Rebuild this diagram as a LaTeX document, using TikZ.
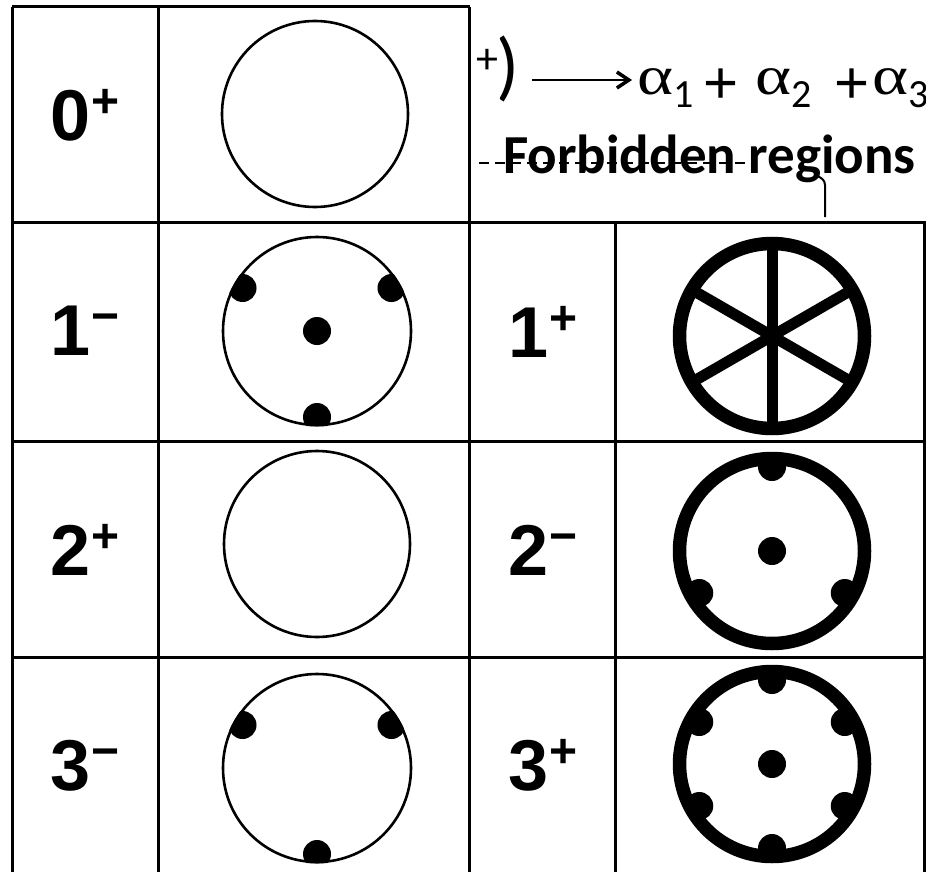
\documentclass[tikz,border=0pt]{standalone}
\usepackage{fontspec}
\setmainfont{Liberation Sans}
\newfontfamily\labfont{Liberation Sans}
\newfontfamily\calfont{Carlito}
\newfontfamily\serfont{Liberation Serif}
\usetikzlibrary{arrows.meta}
\newcommand\lbl[2]{#1\raisebox{23pt}{\fontsize{48}{48}\selectfont #2}}
\newcommand\alf{\scalebox{1.25}[1]{\serfont\fontsize{55}{55}\selectfont α}}
\newcommand\subf[1]{\raisebox{-13pt}{\calfont\fontsize{40}{40}\selectfont #1}}
\tikzset{
  tablerule/.style={line width=3pt},
  thinring/.style={line width=2.6pt},
  thickring/.style={line width=13.5pt},
  lab/.style={anchor=base, inner sep=0pt, font=\labfont\bfseries\fontsize{72}{72}\selectfont},
  eqtxt/.style={anchor=base west, inner sep=0pt},
  plustxt/.style={anchor=base west, inner sep=0pt, font=\labfont\fontsize{60}{60}\selectfont},
}
\newcommand\thindots[2]{%
  \begin{scope}
    \clip (#1) circle (95.5pt);
    \foreach \a in {#2} \fill[shift={(#1)}] (\a:86pt) circle (14pt);
  \end{scope}}
\newcommand\thickdots[2]{%
  \foreach \a in {#2} \fill[shift={(#1)}] (\a:84pt) circle (14pt);}
\begin{document}
\begin{tikzpicture}[x=1pt,y=-1pt]
\useasboundingbox (0,0) rectangle (926,872);
\fill[white] (0,0) rectangle (926,872);
\clip (0,0) rectangle (926,872);

% ---- table lines ----
\draw[tablerule] (12,7) -- (469.5,7);
\draw[tablerule] (12,7) -- (12,890);
\draw[tablerule] (158,7) -- (158,890);
\draw[tablerule] (469.5,7) -- (469.5,890);
\draw[tablerule] (615,222) -- (615,890);
\draw[tablerule] (924.5,222) -- (924.5,890);
\draw[tablerule] (12,222) -- (930,222);
\draw[tablerule] (12,441) -- (930,441);
\draw[tablerule] (12,657) -- (930,657);

% ---- labels ----
\node[lab] (l0p) at (85,140) {\lbl{0}{+}};
\node[lab] (l1m) at (85,355) {\lbl{1}{−}};
\node[lab] (l2p) at (85,575) {\lbl{2}{+}};
\node[lab] (l3m) at (85,790) {\lbl{3}{−}};
\node[lab] (r1p) at (543,357) {\lbl{1}{+}};
\node[lab] (r2m) at (543,575) {\lbl{2}{−}};
\node[lab] (r3p) at (543,790) {\lbl{3}{+}};

% ---- thin circles ----
\coordinate (c0) at (315,114);
\coordinate (c1) at (317,331);
\coordinate (c2) at (317,544);
\coordinate (c3) at (317,768);
\draw[thinring] (c0) circle (93pt);
\draw[thinring] (c1) circle (94pt);
\thindots{c1}{30,150,270}
\fill (c1) circle (14pt);
\draw[thinring] (c2) circle (93pt);
\draw[thinring] (c3) circle (94pt);
\thindots{c3}{30,150,270}

% ---- thick circles ----
\coordinate (d1) at (772,336);
\coordinate (d2) at (772,551);
\coordinate (d3) at (772,764);
\draw[thickring] (d1) circle (92.5pt);
\foreach \a in {90,30,-30}
  \draw[line width=11pt, shift={(d1)}] (\a:92pt) -- (\a+180:92pt);
\draw[thickring] (d2) circle (92.5pt);
\thickdots{d2}{90,210,330}
\fill (d2) circle (14pt);
\draw[thickring] (d3) circle (92.5pt);
\thickdots{d3}{30,90,150,210,270,330}
\fill (d3) circle (14pt);

% ---- top text ----
\node[eqtxt, font=\calfont\fontsize{44}{44}\selectfont] (sup) at (476,74) {+};
\node[eqtxt, font=\calfont\fontsize{76}{76}\selectfont] (par) at (496,92) {)};
\node[eqtxt] (a1) at (637,95) {\alf\subf{1}};
\node[plustxt] (p1) at (703,104) {+};
\node[eqtxt] (a2) at (755,95) {\alf\subf{2}};
\node[plustxt] (p2) at (834,104) {+};
\node[eqtxt] (a3) at (872,95) {\alf\subf{3}};
\coordinate (as) at (532,80);
\draw[line width=2.5pt, -{Straight Barb[length=12pt,width=16pt,line width=3.5pt]}] (as) -- ([xshift=-5pt]a1.west |- as);

\node[eqtxt, font=\calfont\bfseries\fontsize{55}{55}\selectfont] (fr) at (503,173) {Forbidden regions};
\coordinate (ds) at (479,163);
\coordinate (de) at (752,163);
\draw[line width=2pt, dash pattern=on 10pt off 6pt] (ds) -- (de);
\coordinate (vb) at (825,217);
\coordinate (vt) at (817,176);
\draw[line width=2pt] (vb) -- (825,185) to[out=90,in=-20] (vt);
\end{tikzpicture}
\end{document}
